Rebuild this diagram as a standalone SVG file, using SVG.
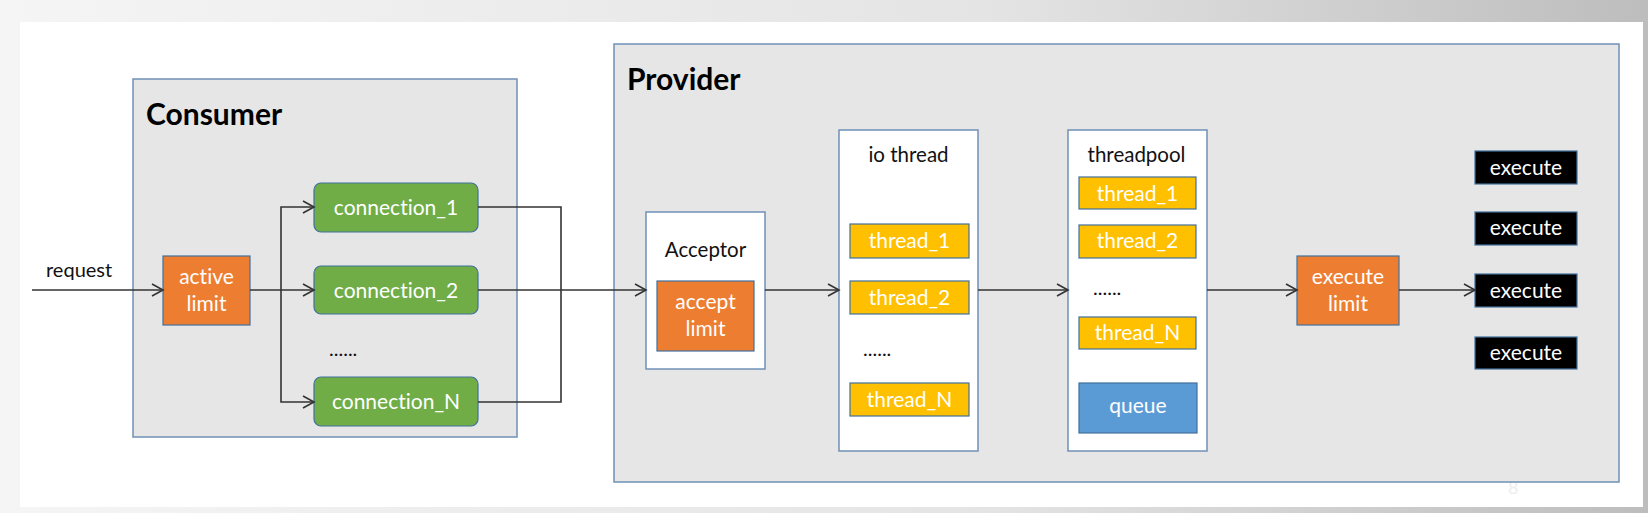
<svg xmlns="http://www.w3.org/2000/svg" width="1648" height="513" viewBox="0 0 1648 513">
<defs>
<linearGradient id="bg" x1="0" y1="0" x2="1" y2="0">
<stop offset="0" stop-color="#f5f5f5"/>
<stop offset="0.6" stop-color="#e4e4e4"/>
<stop offset="1" stop-color="#bdbdbd"/>
</linearGradient>
<marker id="arr" markerUnits="userSpaceOnUse" markerWidth="14" markerHeight="16" refX="12" refY="7" orient="auto">
<path d="M1,1 L12,7 L1,13" fill="none" stroke="#333" stroke-width="1.6"/>
</marker>
<style>
.cont{fill:#e6e6e6;stroke:#6f90b6;stroke-width:1.5}
.wbox{fill:#ffffff;stroke:#6f90b6;stroke-width:1.5}
.green{fill:#70ad47;stroke:#41719c;stroke-width:1.2}
.orange{fill:#ed7d31;stroke:#41719c;stroke-width:1.2}
.yellow{fill:#ffc000;stroke:#41719c;stroke-width:1.2}
.blue{fill:#5b9bd5;stroke:#41719c;stroke-width:1.2}
.black{fill:#000;stroke:#41719c;stroke-width:1.2}
text{font-family:Lato,"Open Sans","Liberation Sans",sans-serif;font-variant-ligatures:none;font-feature-settings:"liga" 0,"clig" 0}
.title{font-size:30px;font-weight:bold;fill:#000}
.hd{font-size:20.5px;fill:#111;text-anchor:middle}
.lbl{font-size:21px;fill:#fff;text-anchor:middle}
.dots{font-size:20px;fill:#111}
.conn{fill:none;stroke:#333;stroke-width:1.6}
</style>
</defs>
<rect x="0" y="0" width="1648" height="513" fill="url(#bg)"/>
<rect x="20" y="22" width="1623" height="485" fill="#ffffff"/>
<text x="1508" y="494" font-size="18" fill="#eeeeee">8</text>

<g id="consumer">
<rect class="cont" x="133" y="79" width="384" height="358"/>
<text class="title" x="146" y="125">Consumer</text>
</g>
<g id="provider">
<rect class="cont" x="614" y="44" width="1005" height="438"/>
<text class="title" x="627" y="90">Provider</text>
</g>

<g id="request-label"><text x="46" y="277" font-size="20" fill="#111">request</text></g>

<g id="active-limit">
<rect class="orange" x="163" y="256" width="87" height="69"/>
<text class="lbl" x="206.5" y="284">active</text>
<text class="lbl" x="206.5" y="311">limit</text>
</g>

<g id="connection-1">
<rect class="green" x="314" y="183" width="164" height="49" rx="7"/>
<text class="lbl" x="396" y="215">connection_1</text>
</g>
<g id="connection-2">
<rect class="green" x="314" y="266" width="164" height="48" rx="7"/>
<text class="lbl" x="396" y="298">connection_2</text>
</g>
<g id="conn-dots"><text class="dots" x="329" y="356">......</text></g>
<g id="connection-n">
<rect class="green" x="314" y="377" width="164" height="49" rx="7"/>
<text class="lbl" x="396" y="409">connection_N</text>
</g>

<g id="acceptor">
<rect class="wbox" x="646" y="212" width="119" height="157"/>
<text class="hd" x="705.5" y="257">Acceptor</text>
<rect class="orange" x="657" y="281" width="97" height="70"/>
<text class="lbl" x="705.5" y="309">accept</text>
<text class="lbl" x="705.5" y="336">limit</text>
</g>

<g id="io-thread">
<rect class="wbox" x="839" y="130" width="139" height="321"/>
<text class="hd" x="908.5" y="162">io thread</text>
<rect class="yellow" x="850" y="224" width="119" height="34"/>
<text class="lbl" x="909.5" y="248">thread_1</text>
<rect class="yellow" x="850" y="281" width="119" height="33"/>
<text class="lbl" x="909.5" y="305">thread_2</text>
<text class="dots" x="863" y="356">......</text>
<rect class="yellow" x="850" y="383" width="119" height="33"/>
<text class="lbl" x="909.5" y="407">thread_N</text>
</g>

<g id="threadpool">
<rect class="wbox" x="1068" y="130" width="139" height="321"/>
<text class="hd" x="1136.5" y="162">threadpool</text>
<rect class="yellow" x="1079" y="177" width="117" height="32"/>
<text class="lbl" x="1137.5" y="201">thread_1</text>
<rect class="yellow" x="1079" y="225" width="117" height="33"/>
<text class="lbl" x="1137.5" y="248">thread_2</text>
<text class="dots" x="1093" y="295">......</text>
<rect class="yellow" x="1079" y="317" width="117" height="32"/>
<text class="lbl" x="1137.5" y="340">thread_N</text>
<rect class="blue" x="1079" y="383" width="118" height="50"/>
<text class="lbl" x="1138" y="413">queue</text>
</g>

<g id="execute-limit">
<rect class="orange" x="1297" y="256" width="102" height="69"/>
<text class="lbl" x="1348" y="284">execute</text>
<text class="lbl" x="1348" y="311">limit</text>
</g>

<g id="execute-1"><rect class="black" x="1475" y="151" width="102" height="33"/><text class="lbl" x="1526" y="175">execute</text></g>
<g id="execute-2"><rect class="black" x="1475" y="212" width="102" height="33"/><text class="lbl" x="1526" y="235">execute</text></g>
<g id="execute-3"><rect class="black" x="1475" y="274" width="102" height="33"/><text class="lbl" x="1526" y="298">execute</text></g>
<g id="execute-4"><rect class="black" x="1475" y="337" width="102" height="32"/><text class="lbl" x="1526" y="360">execute</text></g>

<g id="connectors">
<path class="conn" d="M32,290 H163" marker-end="url(#arr)"/>
<path class="conn" d="M250,290 H314" marker-end="url(#arr)"/>
<path class="conn" d="M281,290 V207 H314" marker-end="url(#arr)"/>
<path class="conn" d="M281,290 V402 H314" marker-end="url(#arr)"/>
<path class="conn" d="M478,207 H561 V402 H478"/>
<path class="conn" d="M478,290 H646" marker-end="url(#arr)"/>
<path class="conn" d="M765,290 H839" marker-end="url(#arr)"/>
<path class="conn" d="M978,290 H1068" marker-end="url(#arr)"/>
<path class="conn" d="M1207,290 H1297" marker-end="url(#arr)"/>
<path class="conn" d="M1399,290 H1475" marker-end="url(#arr)"/>
</g>
</svg>
